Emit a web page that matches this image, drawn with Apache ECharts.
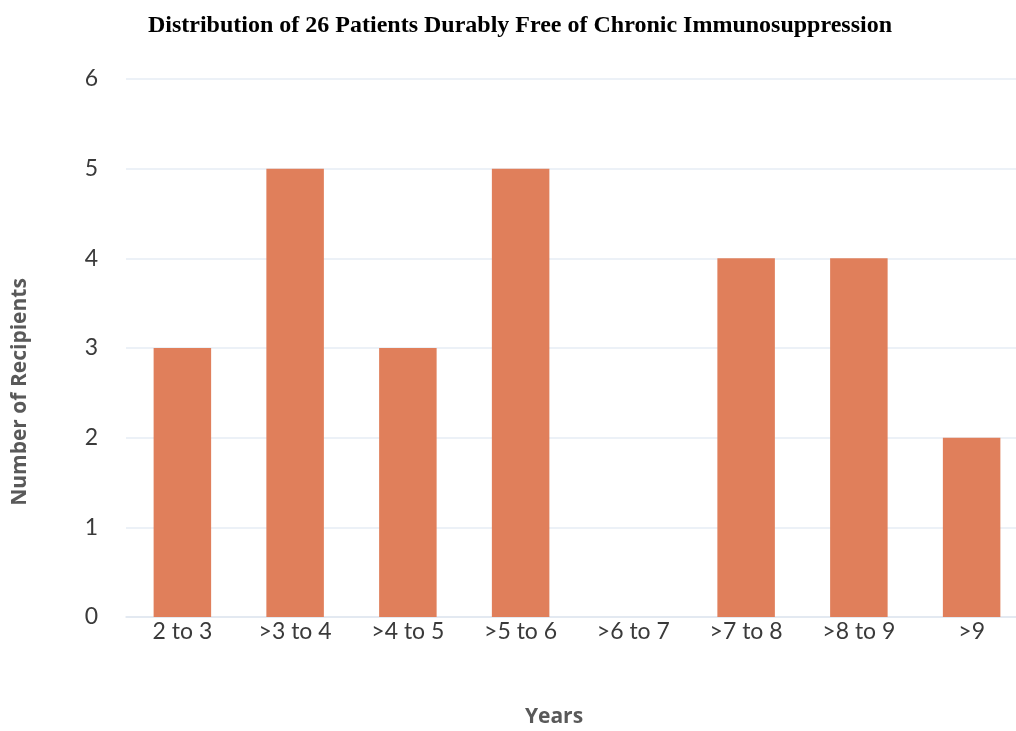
<!DOCTYPE html>
<html>
<head>
<meta charset="utf-8">
<script src="https://cdn.jsdelivr.net/npm/echarts@6/dist/echarts.min.js"></script>
<style>
  html, body { margin: 0; padding: 0; background: #fff; }
  #main { width: 1016px; height: 731px; }
</style>
</head>
<body>
<div id="main"></div>
<script>
// categories and counts
var years = ['2 to 3', '>3 to 4', '>4 to 5', '>5 to 6', '>6 to 7', '>7 to 8', '>8 to 9', '>9'];
var recipients = [3, 5, 3, 5, 0, 4, 4, 2];
var yTicks = [0, 1, 2, 3, 4, 5, 6];

var chart = echarts.init(document.getElementById('main'));

var option = {
    backgroundColor: '#ffffff',
    animation: false,
    title: {
        text: 'Distribution of 26 Patients Durably Free of Chronic Immunosuppression',
        left: 515,
        textAlign: 'center',
        top: 9,
        textStyle: {
            fontFamily: 'Liberation Serif',
            fontWeight: 'bold',
            fontSize: 24,
            color: '#000'
        }
    },
    // plot runs a little past the right edge of the picture
    grid: {
        left: 126,
        width: 902,
        top: 79,
        bottom: 114,
        outerBoundsMode: 'none'
    },
    xAxis: {
        type: 'category',
        data: years,
        name: 'Years',
        nameLocation: 'middle',
        nameGap: 90,
        nameTextStyle: {
            fontFamily: 'Open Sans',
            fontSize: 21,
            fontWeight: 'bold',
            color: '#595959',
            padding: [0, 46, 0, 0]
        },
        axisLine: { lineStyle: { color: '#dfe6f0', width: 1.5 } },
        axisTick: { show: false },
        axisLabel: {
            margin: 3,
            fontFamily: 'Lato',
            fontSize: 23,
            color: '#3a3a3a'
        }
    },
    yAxis: {
        type: 'value',
        min: yTicks[0],
        max: yTicks[yTicks.length - 1],
        interval: 1,
        name: 'Number of Recipients',
        nameLocation: 'middle',
        nameRotate: 90,
        nameGap: 95,
        nameTextStyle: {
            fontFamily: 'Open Sans',
            fontSize: 21,
            fontWeight: 'bold',
            color: '#595959',
            padding: [0, 88, 0, 0]
        },
        axisLine: { show: false },
        axisTick: { show: false },
        axisLabel: {
            margin: 28,
            fontFamily: 'Lato',
            fontSize: 23,
            color: '#3a3a3a'
        },
        splitLine: { lineStyle: { color: '#e6ecf5', width: 1.5 } }
    },
    series: [{
        name: 'Recipients',
        type: 'bar',
        data: recipients,
        barCategoryGap: '49%',
        itemStyle: { color: '#e07f5b' }
    }]
};

chart.setOption(option);
</script>
</body>
</html>
